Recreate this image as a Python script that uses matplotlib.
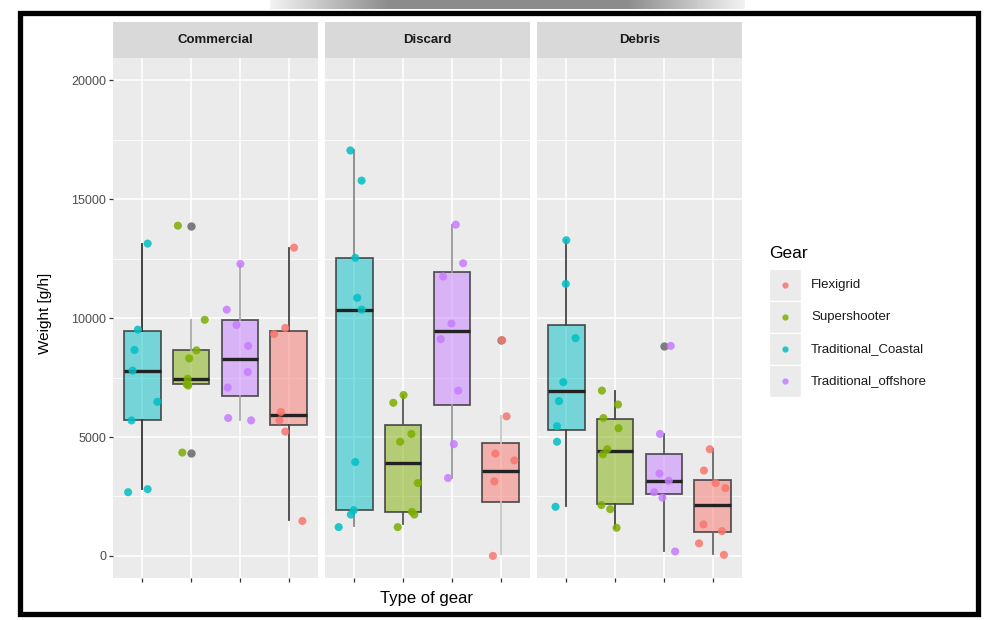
import matplotlib
matplotlib.use('Agg')
import matplotlib.pyplot as plt
import numpy as np
from matplotlib.patches import Rectangle
from matplotlib.lines import Line2D

plt.rcParams['font.family'] = ['Liberation Sans', 'DejaVu Sans']

# facets and gears (x order inside every facet)
facets = ['Commercial', 'Discard', 'Debris']
gears = ['Traditional_Coastal', 'Supershooter', 'Traditional_offshore', 'Flexigrid']
legend_order = ['Flexigrid', 'Supershooter', 'Traditional_Coastal', 'Traditional_offshore']
colors = {'Flexigrid': '#F8766D', 'Supershooter': '#7CAE00',
          'Traditional_Coastal': '#00BFC4', 'Traditional_offshore': '#C77CFF'}

# box stats, one row per facet, columns in gears order
q1 = [[5698, 7222, 6724, 5484], [1923, 1852, 6367, 2279], [5299, 2179, 2607, 997]]
med = [[7792, 7450, 8291, 5940], [10356, 3917, 9444, 3561], [6951, 4416, 3134, 2137]]
q3 = [[9473, 8647, 9900, 9473], [12536, 5484, 11923, 4729], [9715, 5769, 4302, 3205]]
wlo = [[2806, 7165, 5727, 1496], [1250, 1353, 3276, 71], [2094, 1182, 214, 71]]
whi = [[13134, 9900, 12279, 12963], [17051, 6766, 13931, 5869], [13276, 6937, 5128, 4487]]
outl = [[[], [13889, 4345], [], []], [[], [], [], [9074]], [[], [], [8832], []]]

# observations (g/h)
com_pts = [[13134, 9516, 8661, 7792, 6481, 5698, 2806, 2678],
           [13889, 9929, 8647, 8305, 7450, 7222, 7165, 4345],
           [12279, 10356, 9715, 8832, 7735, 7080, 5798, 5698],
           [12963, 9587, 9330, 6054, 5698, 5228, 1467]]
dis_pts = [[17051, 15783, 12536, 10855, 10356, 3946, 1923, 1738, 1211],
           [6766, 6439, 5128, 4800, 3063, 1852, 1738, 1211],
           [13931, 12308, 11752, 9772, 9117, 6951, 4701, 3276],
           [9074, 5869, 4302, 4017, 3134, 0]]
deb_pts = [[13276, 11439, 9159, 7307, 6510, 5456, 4801, 2066],
           [6951, 6367, 5798, 5370, 4487, 4273, 2137, 1966, 1182],
           [8832, 5128, 3462, 3162, 2678, 2450, 185],
           [4487, 3590, 3063, 2849, 1325, 1040, 527, 43]]

# horizontal jitter
com_jit = [[0.11, -0.09, -0.16, -0.2, 0.31, -0.22, 0.11, -0.29],
           [-0.27, 0.28, 0.11, -0.04, -0.07, -0.09, -0.06, -0.18],
           [0.01, -0.27, -0.07, 0.17, 0.16, -0.25, -0.24, 0.23],
           [0.11, -0.07, -0.3, -0.16, -0.19, -0.07, 0.28]]
dis_jit = [[-0.08, 0.15, 0.02, 0.06, 0.15, 0.02, -0.01, -0.07, -0.32],
           [0.01, -0.2, 0.17, -0.06, 0.3, 0.18, 0.23, -0.11],
           [0.08, 0.23, -0.18, -0.01, -0.23, 0.13, 0.04, -0.08],
           [0.03, 0.12, -0.11, 0.28, -0.13, -0.16]]
deb_jit = [[0, -0.01, 0.19, -0.06, -0.15, -0.19, -0.19, -0.22],
           [-0.27, 0.06, -0.24, 0.07, -0.16, -0.25, -0.28, -0.1, 0.03],
           [0.14, -0.08, -0.09, 0.1, -0.2, -0.03, 0.23],
           [-0.06, -0.18, 0.06, 0.26, -0.19, 0.19, -0.28, 0.23]]

points = [com_pts, dis_pts, deb_pts]
jitter = [com_jit, dis_jit, deb_jit]

# whisker line colours differ a bit per box in the original
whisk_col = [['#333333', '#aaaaaa', '#aaaaaa', '#444444'],
             ['#888888', '#555555', '#999999', '#c8c8c8'],
             ['#444444', '#444444', '#555555', '#666666']]

W, H = 986, 620
fig = plt.figure(figsize=(W / 100, H / 100), dpi=100)
fig.patch.set_facecolor('white')

lefts = [113, 325, 537]
pw = 205
ptop, pbot = 58, 578
strip_top = 22

ymin, ymax = -930, 20940

for f in range(3):
    ax = fig.add_axes([lefts[f] / W, 1 - pbot / H, pw / W, (pbot - ptop) / H])
    ax.set_facecolor('#EBEBEB')
    for s in ax.spines.values():
        s.set_visible(False)

    stats = []
    for g in range(4):
        stats.append({'med': med[f][g], 'q1': q1[f][g], 'q3': q3[f][g],
                      'whislo': wlo[f][g], 'whishi': whi[f][g],
                      'fliers': outl[f][g]})
    bp = ax.bxp(stats, positions=[1, 2, 3, 4], widths=0.75, patch_artist=True,
                showcaps=False, manage_ticks=False,
                flierprops=dict(marker='o', markerfacecolor='#555555',
                                markeredgecolor='none', markersize=6, alpha=0.75),
                medianprops=dict(color='#222222', lw=2.4),
                boxprops=dict(lw=1.3))
    for g in range(4):
        box = bp['boxes'][g]
        box.set_facecolor(matplotlib.colors.to_rgba(colors[gears[g]], 0.5))
        box.set_edgecolor((0.2, 0.2, 0.2, 0.8))
        for w in bp['whiskers'][2 * g:2 * g + 2]:
            w.set_color(whisk_col[f][g])
            w.set_lw(1.3)

    for g in range(4):
        x = np.array(jitter[f][g]) + g + 1
        ax.scatter(x, points[f][g], s=34, color=colors[gears[g]], alpha=0.85,
                   edgecolors='none', zorder=4)

    ax.set_xlim(0.4, 4.6)
    ax.set_ylim(ymin, ymax)
    ax.set_yticks([0, 5000, 10000, 15000, 20000])
    ax.set_yticks([2500, 7500, 12500, 17500], minor=True)
    ax.set_xticks([1, 2, 3, 4])
    ax.set_xticklabels([])
    ax.grid(which='major', color='white', lw=1.1)
    ax.grid(which='minor', axis='y', color='white', lw=0.55)
    ax.set_axisbelow(True)
    ax.tick_params(axis='x', length=3, color='#333333', width=0.9)
    ax.tick_params(which='minor', length=0)
    if f == 0:
        ax.tick_params(axis='y', length=3, color='#333333', width=0.9,
                       labelsize=9, labelcolor='#4d4d4d', pad=2)
    else:
        ax.tick_params(axis='y', length=0, labelleft=False)

    # strip
    sax = fig.add_axes([lefts[f] / W, 1 - ptop / H, pw / W, (ptop - strip_top) / H])
    sax.set_facecolor('#D9D9D9')
    sax.set_xticks([])
    sax.set_yticks([])
    for s in sax.spines.values():
        s.set_visible(False)
    sax.text(0.5, 0.5, facets[f], ha='center', va='center', fontsize=9.5,
             fontweight='bold', color='#1a1a1a', transform=sax.transAxes)

# axis titles
fig.text(45 / W, 1 - 313 / H, 'Weight [g/h]', rotation=90, ha='center', va='center',
         fontsize=11)
fig.text(427 / W, 1 - 598 / H, 'Type of gear', ha='center', va='center', fontsize=12)

# legend
fig.text(769 / W, 1 - 253 / H, 'Gear', ha='left', va='center', fontsize=12.5)
key_y = [285, 317, 349, 381]
for i, name in enumerate(legend_order):
    y = key_y[i]
    fig.patches.append(Rectangle((769 / W, 1 - (y + 16) / H), 32 / W, 32 / H,
                                 transform=fig.transFigure, facecolor='#EBEBEB',
                                 edgecolor='white', lw=1))
    fig.lines.append(Line2D([785 / W], [1 - y / H], transform=fig.transFigure,
                            marker='o', markersize=4.5, color=colors[name], alpha=0.85,
                            markeredgecolor='none'))
    fig.text(811 / W, 1 - y / H, name, ha='left', va='center', fontsize=9.5,
             color='#1a1a1a')

# screenshot frame
fig.patches.append(Rectangle((20 / W, 1 - 614 / H), 958 / W, 601 / H,
                             transform=fig.transFigure, fill=False,
                             edgecolor='black', lw=3.8))
grad = fig.add_axes([270 / W, 1 - 9 / H, 475 / W, 9 / H])
g_img = np.concatenate([np.linspace(0.95, 0.55, 60), np.full(120, 0.55),
                        np.linspace(0.55, 0.95, 60)])
grad.imshow(g_img[None, :], cmap='gray', vmin=0, vmax=1, aspect='auto')
grad.axis('off')

fig.savefig('out.png', dpi=100)
